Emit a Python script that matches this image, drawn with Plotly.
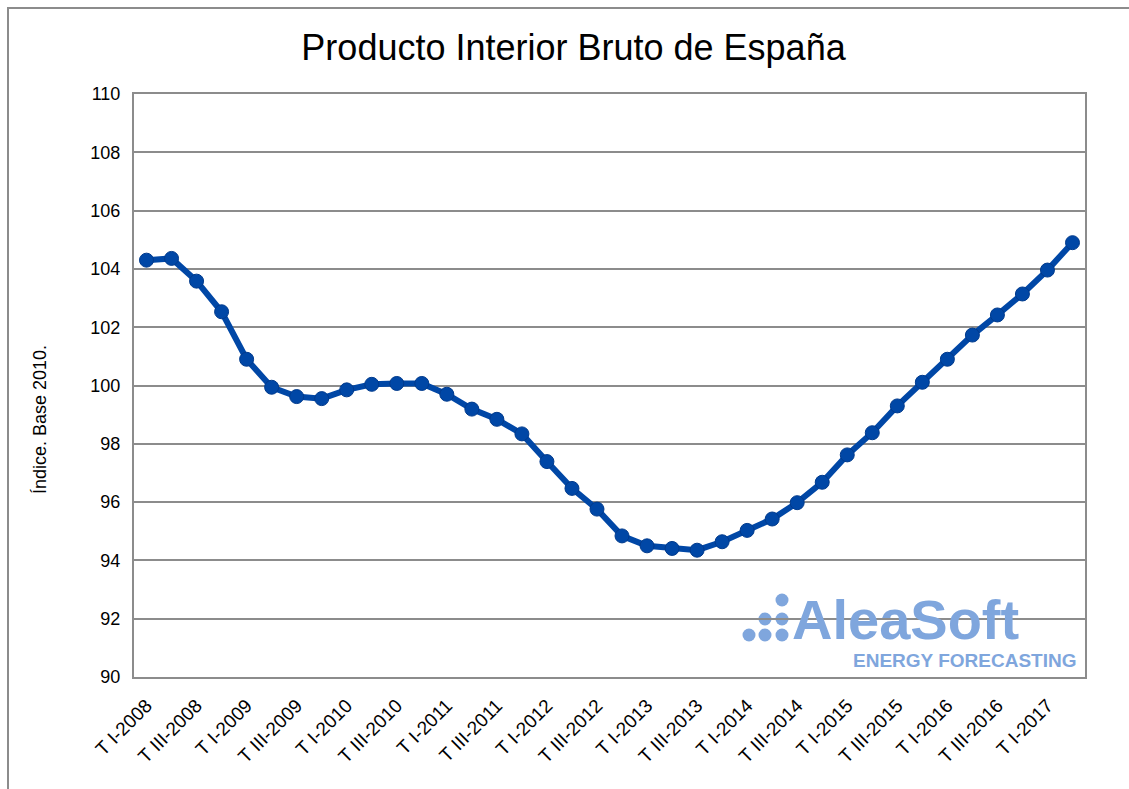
import plotly.graph_objects as go

years = list(range(2008, 2018))
roman = ["I", "II", "III", "IV"]
quarters = [f"T {r}-{y}" for y in years for r in roman][:38]

pib = [104.30, 104.36, 103.58, 102.53, 100.90, 99.94, 99.62, 99.55, 99.85, 100.04,
       100.07, 100.07, 99.70, 99.19, 98.84, 98.34, 97.39, 96.47, 95.76, 94.84,
       94.50, 94.41, 94.35, 94.64, 95.03, 95.42, 95.98, 96.68, 97.62, 98.38,
       99.30, 100.11, 100.90, 101.73, 102.42, 103.14, 103.96, 104.90]

tick_labels = quarters[::2]
y_ticks = list(range(90, 111, 2))

line_color = "#0047A6"
grid_color = "#8C8C8C"
logo_color = "#7FA6DD"

fig = go.Figure()
fig.add_trace(go.Scatter(
    x=quarters, y=pib, mode="lines+markers",
    line=dict(color=line_color, width=6),
    marker=dict(color=line_color, size=14, line=dict(color="#003A8C", width=1)),
    showlegend=False, cliponaxis=False,
))

fig.update_layout(
    width=1129, height=789,
    margin=dict(l=134, r=44, t=94, b=112),
    paper_bgcolor="white", plot_bgcolor="white",
    font=dict(family="Liberation Sans, Arial, sans-serif", color="black"),
    title=dict(text="Producto Interior Bruto de España", x=0.508, xanchor="center",
               y=0.94, yanchor="middle", font=dict(size=36, color="black")),
    xaxis=dict(
        type="category", range=[-0.5, 37.5],
        tickmode="array", tickvals=tick_labels, ticktext=tick_labels,
        tickangle=-45, tickfont=dict(size=19), ticks="", showgrid=False,
        showline=True, linecolor=grid_color, linewidth=2, mirror=True,
        ticklabelstandoff=8,
    ),
    yaxis=dict(
        range=[90, 110], tickvals=y_ticks, tickfont=dict(size=18),
        showgrid=True, gridcolor=grid_color, gridwidth=1.5, zeroline=False,
        showline=True, linecolor=grid_color, linewidth=2, mirror=True,
        ticks="", ticklabelstandoff=8,
    ),
)

# outer chart border (top and left edges visible in the picture)
px = lambda v: (v - 134) / 951
py = lambda v: (677 - v) / 583
fig.add_shape(type="line", xref="paper", yref="paper",
              x0=px(7), x1=px(1135), y0=py(8), y1=py(8),
              line=dict(color="#8C8C8C", width=2), layer="below")
fig.add_shape(type="line", xref="paper", yref="paper",
              x0=px(8), x1=px(8), y0=py(7), y1=py(795),
              line=dict(color="#8C8C8C", width=2), layer="below")

# y axis title
fig.add_annotation(text="Índice. Base 2010.", xref="paper", yref="paper",
                   x=px(40), y=py(420), textangle=-90, showarrow=False,
                   font=dict(size=18, color="black"), xanchor="center", yanchor="middle")

# AleaSoft watermark
fig.add_annotation(text="<b>AleaSoft</b>", xref="paper", yref="paper",
                   x=px(1021), y=py(619), xanchor="right", yanchor="middle",
                   showarrow=False, font=dict(size=56, color=logo_color, family="Liberation Sans, Arial"))
fig.add_annotation(text="<b>ENERGY FORECASTING</b>", xref="paper", yref="paper",
                   x=px(1078), y=py(660), xanchor="right", yanchor="middle",
                   showarrow=False, font=dict(size=19, color=logo_color, family="Liberation Sans, Arial"))
dots = [(782, 600), (765, 619), (782, 619), (749, 635), (765, 635), (782, 635)]
for (dx, dy) in dots:
    r = 6.5
    fig.add_shape(type="circle", xref="paper", yref="paper",
                  x0=px(dx - r), x1=px(dx + r),
                  y0=py(dy + r), y1=py(dy - r),
                  fillcolor=logo_color, line=dict(width=0), layer="below")

fig.write_html("out.html", config={"displayModeBar": False},
               post_script="document.body.style.margin='0';document.body.style.overflow='hidden';")
